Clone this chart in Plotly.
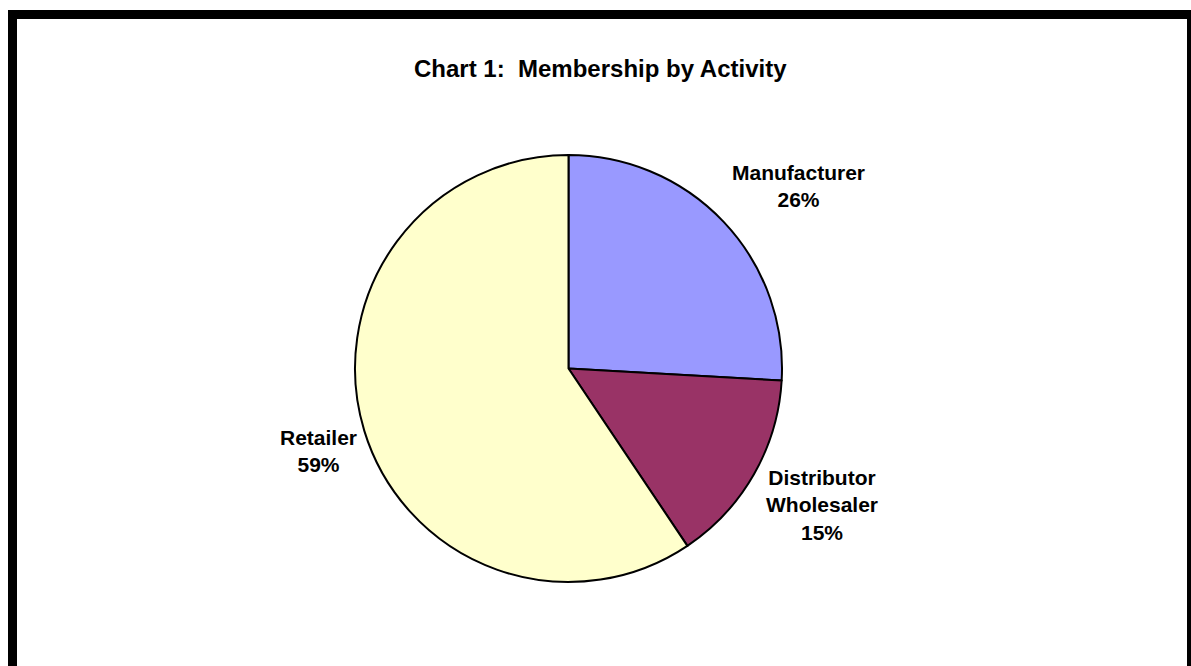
import plotly.graph_objects as go

categories = ["Manufacturer", "Distributor<br>Wholesaler", "Retailer"]
values = [25.9, 14.7, 59.4]
colors = ["#9999FF", "#993366", "#FFFFCC"]
title_text = "Chart 1:  Membership by Activity"

W, H = 1191, 666
font_family = "Liberation Sans, Arial, sans-serif"

fig = go.Figure()
fig.add_trace(go.Pie(
    labels=categories,
    values=values,
    sort=False,
    direction="clockwise",
    rotation=0,
    marker=dict(colors=colors, line=dict(color="black", width=2)),
    textinfo="none",
    hoverinfo="label+percent",
    showlegend=False,
    domain=dict(x=[(568.5 - 213.5) / W, (568.5 + 213.5) / W],
                y=[(H - 368.5 - 213.5) / H, (H - 368.5 + 213.5) / H]),
))

total = sum(values)
label_pos = [(798, 186), (822, 505), (318, 451)]
for cat, v, (px, py) in zip(categories, values, label_pos):
    pct = round(100 * v / total)
    fig.add_annotation(
        x=px / W, y=1 - py / H, xref="paper", yref="paper",
        xanchor="center", yanchor="middle",
        text=f"<b>{cat}<br>{pct}%</b>",
        showarrow=False, align="center",
        font=dict(family=font_family, size=21, color="black"),
    )

fig.add_annotation(
    x=600 / W, y=1 - 68 / H, xref="paper", yref="paper",
    xanchor="center", yanchor="middle",
    text=f"<b>{title_text}</b>", showarrow=False,
    font=dict(family=font_family, size=24, color="black"),
)

# frame
fig.add_shape(type="rect", xref="paper", yref="paper",
              x0=12.5 / W, x1=1191.5 / W, y0=-0.05, y1=1 - 14.5 / H,
              line=dict(color="black", width=9), fillcolor="rgba(0,0,0,0)")

fig.update_layout(
    width=W, height=H,
    margin=dict(l=0, r=0, t=0, b=0),
    paper_bgcolor="white", plot_bgcolor="white",
)

fig.write_html("out.html")
